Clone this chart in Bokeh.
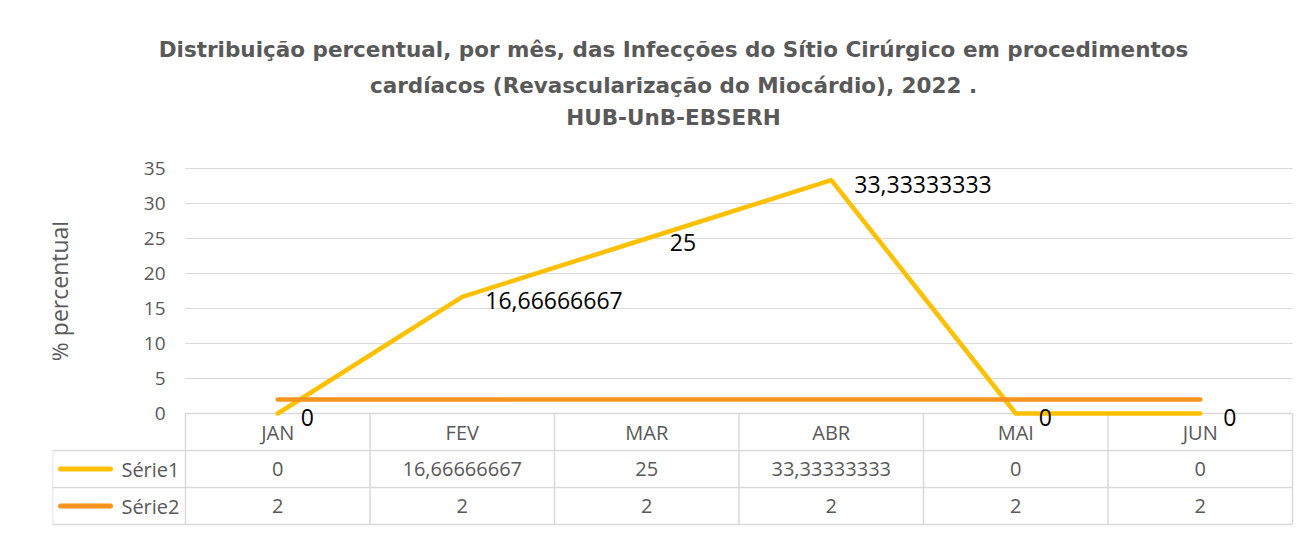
from bokeh.plotting import figure
from bokeh.models import Title, Range1d, ColumnDataSource
from bokeh.core.properties import value
from bokeh.embed import file_html
from bokeh.resources import INLINE

# ---------------- data ----------------
months = ["JAN", "FEV", "MAR", "ABR", "MAI", "JUN"]
serie1 = [0, 16.66666667, 25, 33.33333333, 0, 0]
serie2 = [2, 2, 2, 2, 2, 2]
series_names = ["Série1", "Série2"]
y_ticks = [0, 5, 10, 15, 20, 25, 30, 35]
title_lines = [
    "Distribuição percentual, por mês, das Infecções do Sítio Cirúrgico em procedimentos",
    "cardíacos (Revascularização do Miocárdio), 2022 .",
    "HUB-UnB-EBSERH",
]
y_label = "% percentual"

# ---------------- style / layout ----------------
FONT = "Open Sans"
TITLE_FONT = "DejaVu Sans"
GREY_TXT = "#595959"
GRID = "#D9D9D9"
C1 = "#FFC000"
C2 = "#F7941E"

W, H = 1304, 533
TOP_PAD = 37         # px of frame above the top tick
BL, BR, BT, BB = 52, 10, 168 - TOP_PAD, 5
PXX = 184.5          # px per category
PXY = 7.0            # px per y unit
LEG_PX = 133         # width of legend column
ROW_PX = 37          # table row height

fw = W - BL - BR
fh = H - BT - BB
x0 = -LEG_PX / PXX
y_end = max(y_ticks) + TOP_PAD / PXY
y_start = y_end - fh / PXY
RH = ROW_PX / PXY
LEG = LEG_PX / PXX
n = len(months)

fmt = lambda v: f"{v:.10g}".replace(".", ",")

p = figure(width=W, height=H, output_backend="svg", toolbar_location=None,
           x_axis_type=None, y_axis_type=None,
           x_range=Range1d(x0, x0 + fw / PXX), y_range=Range1d(y_start, y_end),
           min_border_left=BL, min_border_right=BR, min_border_top=BT,
           min_border_bottom=BB)
p.outline_line_color = None
p.background_fill_color = "white"
p.border_fill_color = "white"
p.title = None

standoffs = [4, 6, 12]
for line, so in zip(reversed(title_lines), standoffs):
    p.add_layout(Title(text=line, align="center", text_font=TITLE_FONT,
                       text_font_size="21.5px", text_font_style="bold",
                       text_color=GREY_TXT, standoff=so), "above")

# gridlines (y ticks above 0)
gt = [t for t in y_ticks if t > 0]
p.segment(x0=[0] * len(gt), x1=[n] * len(gt), y0=gt, y1=gt,
          line_color=GRID, line_width=1)

# y tick labels
p.text(x=[0] * len(y_ticks), y=y_ticks, text=[str(t) for t in y_ticks],
       x_offset=-20, text_align="right", text_baseline="middle",
       text_font=value(FONT), text_font_size="19px", text_color=GREY_TXT)

# y axis label
p.text(x=[0], y=[max(y_ticks) / 2], text=[y_label], angle=1.5707963,
       x_offset=-127, text_align="center", text_baseline="middle",
       text_font=value(FONT), text_font_size="23px", text_color=GREY_TXT)

# table grid
hx0 = [0] + [-LEG] * 3
hx1 = [n] * 4
hy = [0, -RH, -2 * RH, -3 * RH]
p.segment(x0=hx0, x1=hx1, y0=hy, y1=hy, line_color=GRID, line_width=1.5)
vx = list(range(n + 1)) + [-LEG]
vy0 = [0] * (n + 1) + [-RH]
vy1 = [-3 * RH] * (n + 2)
p.segment(x0=vx, x1=vx, y0=vy0, y1=vy1, line_color=GRID, line_width=1.5)

xs = [i + 0.5 for i in range(n)]

# header + table cells
cells_x = xs * 3
cells_y = [-0.5 * RH] * n + [-1.5 * RH] * n + [-2.5 * RH] * n
cells_t = months + [fmt(v) for v in serie1] + [fmt(v) for v in serie2]
p.text(x=cells_x, y=cells_y, text=cells_t, text_align="center",
       text_baseline="middle", text_font=value(FONT), text_font_size="20px",
       text_color=GREY_TXT)

# legend column
ly = [-1.5 * RH, -2.5 * RH]
for yy, col in zip(ly, [C1, C2]):
    p.line(x=[-LEG + 8 / PXX, -LEG + 58 / PXX], y=[yy, yy], line_color=col,
           line_width=5, line_cap="round")
p.text(x=[0, 0], y=ly, text=series_names, x_offset=-6, text_align="right",
       text_baseline="middle", text_font=value(FONT), text_font_size="20px",
       text_color=GREY_TXT)

# series lines
src = ColumnDataSource(dict(x=xs, s1=serie1, s2=serie2,
                            lab=[fmt(v) for v in serie1]))
p.line("x", "s1", source=src, line_color=C1, line_width=4.5,
       line_cap="round", line_join="round")
p.line("x", "s2", source=src, line_color=C2, line_width=4.5,
       line_cap="round", line_join="round")

# data labels (Série1)
p.text("x", "s1", text="lab", source=src, x_offset=23, y_offset=4,
       text_align="left", text_baseline="middle", text_font=value(FONT),
       text_font_size="23px", text_color="black")

open("out.html", "w").write(file_html(p, INLINE))
